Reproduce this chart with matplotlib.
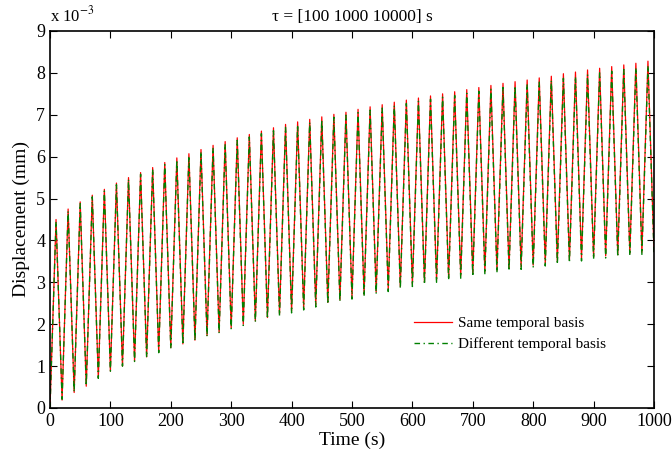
import numpy as np
import matplotlib
matplotlib.use("Agg")
import matplotlib.pyplot as plt

# ---- data (units of 1e-3 mm) ----
peak_times = [10 + 20 * k for k in range(50)]
trough_times = [20 * k for k in range(51)]

red_peaks = [4.50, 4.75, 4.92, 5.08, 5.22, 5.37, 5.50, 5.62, 5.74, 5.86,
             5.97, 6.07, 6.17, 6.27, 6.36, 6.45, 6.53, 6.61, 6.69, 6.77,
             6.83, 6.89, 6.95, 7.01, 7.06, 7.13, 7.19, 7.24, 7.30, 7.35,
             7.40, 7.45, 7.50, 7.55, 7.60, 7.65, 7.70, 7.75, 7.79, 7.83,
             7.88, 7.92, 7.98, 8.02, 8.07, 8.11, 8.15, 8.19, 8.23, 8.28]
red_troughs = [0.00, 0.19, 0.37, 0.52, 0.71, 0.88, 1.00, 1.12, 1.22, 1.33,
               1.44, 1.53, 1.62, 1.73, 1.81, 1.91, 2.00, 2.08, 2.16, 2.24,
               2.31, 2.38, 2.45, 2.52, 2.58, 2.64, 2.71, 2.77, 2.83, 2.90,
               2.95, 3.00, 3.05, 3.10, 3.15, 3.20, 3.25, 3.29, 3.33, 3.37,
               3.41, 3.45, 3.49, 3.53, 3.57, 3.60, 3.63, 3.66, 3.69, 3.72,
               3.75]

green_peaks = [4.45, 4.70, 4.88, 5.04, 5.18, 5.33, 5.46, 5.58, 5.70, 5.81,
               5.92, 6.02, 6.12, 6.21, 6.30, 6.39, 6.47, 6.55, 6.62, 6.70,
               6.76, 6.82, 6.88, 6.94, 6.99, 7.05, 7.11, 7.16, 7.22, 7.27,
               7.32, 7.37, 7.42, 7.46, 7.51, 7.56, 7.61, 7.65, 7.69, 7.73,
               7.78, 7.82, 7.87, 7.91, 7.96, 8.00, 8.04, 8.08, 8.12, 8.17]
green_troughs = [0.00, 0.21, 0.38, 0.53, 0.71, 0.88, 1.00, 1.11, 1.21, 1.32,
                 1.42, 1.51, 1.60, 1.70, 1.78, 1.88, 1.97, 2.05, 2.13, 2.20,
                 2.27, 2.34, 2.41, 2.48, 2.54, 2.60, 2.66, 2.72, 2.78, 2.85,
                 2.90, 2.95, 3.00, 3.05, 3.10, 3.14, 3.19, 3.23, 3.27, 3.31,
                 3.35, 3.39, 3.43, 3.47, 3.51, 3.55, 3.58, 3.61, 3.64, 3.67,
                 3.70]


def zigzag(tt, tv, pt, pv):
    t, v = [], []
    for i in range(len(tt)):
        t.append(tt[i]); v.append(tv[i])
        if i < len(pt):
            t.append(pt[i]); v.append(pv[i])
    return np.array(t), np.array(v) * 1e-3


plt.rcParams['font.family'] = ['Liberation Serif', 'DejaVu Serif']
plt.rcParams['mathtext.fontset'] = 'stix'

fig = plt.figure(figsize=(6.72, 4.55), dpi=100)
ax = fig.add_axes([0.0744, 0.1033, 0.8988, 0.8286])

tr, vr = zigzag(trough_times, red_troughs, peak_times, red_peaks)
tg, vg = zigzag(trough_times, green_troughs, peak_times, green_peaks)

ax.plot(tr, vr, color='#ff0000', lw=0.9, label='Same temporal basis')
ax.plot(tg, vg, color='#008000', lw=1.0, ls=(0, (4, 2.5, 1, 2.5)),
        label='Different temporal basis')

ax.set_xlim(0, 1000)
ax.set_ylim(0, 9e-3)
ax.set_xticks(np.arange(0, 1001, 100))
ax.set_yticks(np.arange(0, 10) * 1e-3)
ax.set_yticklabels([str(i) for i in range(10)])
ax.tick_params(direction='in', top=True, right=True, labelsize=13, length=5,
               width=0.8)
for s in ax.spines.values():
    s.set_linewidth(1.2)

ax.set_xlabel('Time (s)', fontsize=14, labelpad=1)
ax.set_ylabel('Displacement (mm)', fontsize=14, labelpad=4)
ax.set_title('τ = [100 1000 10000] s', fontsize=12.5, pad=7)
fig.text(0.0744, 0.945, r'x 10$^{-3}$', fontsize=12, ha='left', va='bottom')

ax.legend(loc='lower left', bbox_to_anchor=(0.58, 0.115), frameon=False,
          fontsize=11, handlelength=2.5, handletextpad=0.35,
          labelspacing=0.45)

fig.savefig('out.png', dpi=100)
